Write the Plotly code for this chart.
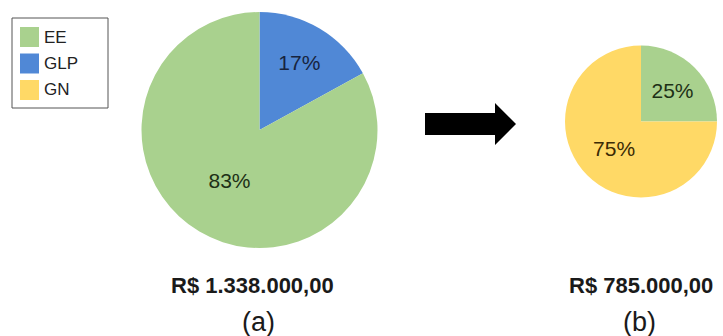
import plotly.graph_objects as go

W, H = 723, 336

# ---- data ----
labels_a = ["GLP", "EE"]
values_a = [17, 83]
labels_b = ["EE", "GN"]
values_b = [25, 75]
legend_labels = ["EE", "GLP", "GN"]
colors = {"EE": "#A9D18E", "GLP": "#5088D6", "GN": "#FFD966"}
text_colors = {"EE": "#1d3016", "GLP": "#17243f", "GN": "#3b2b05"}
cost_a = "R$ 1.338.000,00"
cost_b = "R$ 785.000,00"
cap_a = "(a)"
cap_b = "(b)"


def px(x):
    return x / W


def py(y):
    return 1 - y / H


fig = go.Figure()

fig.add_trace(go.Pie(
    labels=labels_a, values=values_a, sort=False, direction="clockwise",
    marker=dict(colors=[colors[l] for l in labels_a], line=dict(width=0)),
    textinfo="percent", textposition="inside", insidetextorientation="horizontal",
    insidetextfont=dict(family="Liberation Sans, Arial", size=21,
                        color=[text_colors[l] for l in labels_a]),
    domain=dict(x=[px(141.5), px(377.5)], y=[py(248), py(12)]),
    showlegend=False, hoverinfo="label+percent",
))
fig.add_trace(go.Pie(
    labels=labels_b, values=values_b, sort=False, direction="clockwise",
    marker=dict(colors=[colors[l] for l in labels_b], line=dict(width=0)),
    textinfo="percent", textposition="inside", insidetextorientation="horizontal",
    insidetextfont=dict(family="Liberation Sans, Arial", size=21,
                        color=[text_colors[l] for l in labels_b]),
    domain=dict(x=[px(565), px(717)], y=[py(197.5), py(45.5)]),
    showlegend=False, hoverinfo="label+percent",
))

shapes = []
annotations = []

# legend box
shapes.append(dict(type="rect", xref="paper", yref="paper",
                   x0=px(12), x1=px(108), y0=py(108), y1=py(18),
                   line=dict(color="#555555", width=1), fillcolor="white", layer="below"))
for i, lab in enumerate(legend_labels):
    yc = 37 + i * 26.5
    shapes.append(dict(type="rect", xref="paper", yref="paper",
                       x0=px(20), x1=px(39), y0=py(yc + 10), y1=py(yc - 10),
                       line=dict(width=0), fillcolor=colors[lab]))
    annotations.append(dict(text=lab, xref="paper", yref="paper", x=px(42), y=py(yc),
                            xanchor="left", yanchor="middle", showarrow=False,
                            font=dict(family="Liberation Sans, Arial", size=17, color="#222222")))

# arrow
arrow_pts = [(425, 113), (495, 113), (495, 103), (516, 124), (495, 145), (495, 135), (425, 135)]
path = "M " + " L ".join(f"{px(x)},{py(y)}" for x, y in arrow_pts) + " Z"
shapes.append(dict(type="path", xref="paper", yref="paper", path=path,
                   fillcolor="black", line=dict(width=0)))

# captions
for txt, xc, yc, bold, size in [
    (cost_a, 252, 285, True, 22), (cost_b, 641, 285, True, 22),
    (cap_a, 258, 322, False, 27), (cap_b, 639, 322, False, 27),
]:
    annotations.append(dict(text=f"<b>{txt}</b>" if bold else txt, xref="paper", yref="paper",
                            x=px(xc), y=py(yc), xanchor="center", yanchor="middle",
                            showarrow=False,
                            font=dict(family="Liberation Sans, Arial", size=size, color="#1a1a1a")))

fig.update_layout(
    width=W, height=H, margin=dict(l=0, r=0, t=0, b=0),
    paper_bgcolor="white", plot_bgcolor="white",
    shapes=shapes, annotations=annotations, showlegend=False,
)

fig.write_html("out.html")
